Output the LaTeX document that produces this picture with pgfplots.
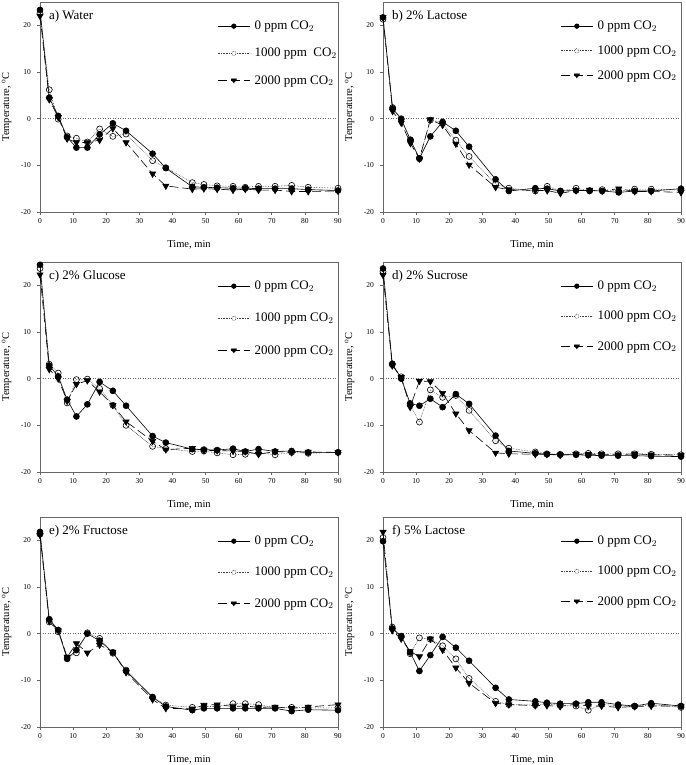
\documentclass[border=0pt]{standalone}
\usepackage{fontspec}
\setmainfont{Liberation Serif}
\usepackage{pgfplots}
\usepackage{pgfplotstable}
\pgfplotsset{compat=1.18}

\pgfplotstableread{
t a0 a1 a2
0 23.3 22.6 22.0
2.8 4.5 6.2 4.1
5.5 0.6 -0.1 0.3
8.2 -4.0 -3.7 -4.3
11 -6.2 -4.2 -5.1
14.3 -6.2 -5.0 -5.1
18 -3.4 -2.2 -4.6
22 -1.0 -3.8 -2.1
26 -2.6 -3.3 -5.1
34 -7.5 -9.0 -11.8
38 -10.6 -10.5 -14.4
46 -14.6 -13.7 -15.1
49.5 -14.7 -14.1 -15.0
53.5 -14.8 -14.4 -15.1
58.3 -14.9 -14.5 -15.3
62 -14.9 -14.7 -15.1
66 -15.0 -14.5 -15.3
71 -15.0 -14.5 -15.3
76 -15.0 -14.3 -15.6
81 -15.2 -14.7 -15.6
90 -15.4 -14.9 -15.5
}\tabA

\pgfplotstableread{
t a0 a1 a2
0 21.7 21.3 21.7
2.9 2.2 2.4 1.6
5.5 -0.1 0.0 -0.9
8.3 -4.6 -4.5 -5.3
11 -8.5 -8.6 -8.6
14.3 -3.8 -0.3 -0.2
18 -0.7 -0.9 -1.4
22 -2.6 -4.6 -5.4
26 -6.0 -8.1 -9.9
34 -13.0 -14.0 -14.7
38 -15.5 -14.9 -15.2
46 -14.9 -15.5 -15.4
49.6 -15.0 -14.5 -15.4
53.6 -15.5 -15.5 -16.0
58.3 -15.4 -14.9 -15.4
62.4 -15.4 -15.5 -15.3
66.2 -15.5 -15.2 -15.5
71.2 -15.8 -15.5 -15.0
76 -15.5 -15.1 -15.6
81 -15.5 -15.1 -15.6
90 -15.0 -15.3 -15.8
}\tabB

\pgfplotstableread{
t a0 a1 a2
0 24.4 23.6 22.3
2.8 2.8 3.1 2.0
5.5 0.5 1.2 0.0
8.2 -4.5 -5.2 -4.8
11 -8.1 -0.2 -1.2
14.3 -5.5 -0.1 -0.4
18 -0.7 -2.1 -2.8
22 -2.6 -5.7 -5.7
26 -5.8 -10.0 -9.2
34 -12.3 -14.5 -13.4
38 -13.7 -15.0 -15.2
46 -15.1 -15.6 -14.9
49.5 -15.2 -15.5 -15.4
53.5 -15.3 -15.9 -15.4
58.3 -15.0 -16.3 -15.5
62 -15.6 -16.2 -15.6
66 -15.1 -15.9 -16.2
71 -15.6 -16.3 -15.6
76 -15.5 -15.8 -15.8
81 -15.8 -16.0 -15.7
90 -15.8 -15.8 -15.8
}\tabC

\pgfplotstableread{
t a0 a1 a2
0 23.6 23.0 22.2
2.8 3.2 3.0 2.8
5.5 0.0 0.4 0.3
8.2 -5.3 -5.6 -6.1
11 -5.8 -9.3 -0.5
14.3 -4.3 -2.4 -0.6
18 -6.1 -4.0 -3.1
22 -3.3 -3.6 -7.5
26 -5.4 -6.8 -11.1
34 -12.2 -13.3 -15.9
38 -15.5 -14.9 -16.1
46 -16.0 -15.7 -16.2
49.5 -16.2 -16.1 -16.2
53.5 -16.3 -16.2 -16.4
58.3 -16.3 -16.1 -16.2
62 -16.4 -16.0 -16.2
66 -16.5 -16.1 -16.2
71 -16.5 -16.1 -16.3
76 -16.5 -16.1 -16.1
81 -16.6 -16.2 -16.3
90 -16.7 -16.3 -16.4
}\tabD

\pgfplotstableread{
t a0 a1 a2
0 21.8 21.3 21.1
2.8 3.1 2.5 2.7
5.5 0.8 0.4 0.7
8.2 -5.4 -5.2 -5.0
11 -3.5 -4.1 -2.1
14.3 0.0 0.2 -4.1
18 -1.5 -1.0 -2.4
22 -4.0 -4.2 -3.9
26 -8.0 -7.8 -8.3
34 -13.6 -13.6 -14.1
38 -15.6 -15.3 -16.0
46 -16.4 -15.8 -16.1
49.5 -16.0 -15.6 -15.3
53.5 -16.0 -15.6 -15.2
58.3 -16.0 -15.0 -15.6
62 -16.0 -15.0 -15.5
66 -16.0 -15.2 -15.8
71 -16.0 -15.9 -15.7
76 -16.6 -15.8 -16.0
81 -16.3 -15.9 -15.7
90 -16.4 -15.9 -15.2
}\tabE

\pgfplotstableread{
t a0 a1 a2
0 19.8 20.6 21.8
2.8 1.1 1.4 0.7
5.5 -0.6 -0.5 -1.1
8.2 -4.0 -4.3 -3.8
11 -8.0 -0.9 -4.9
14.3 -4.6 -1.2 -1.1
18 -0.7 -2.6 -3.5
22 -3.0 -5.4 -7.3
26 -5.8 -9.6 -10.6
34 -11.6 -14.5 -14.9
38 -14.1 -15.2 -15.2
46 -14.5 -15.3 -15.4
49.5 -14.8 -15.0 -15.4
53.5 -15.0 -15.4 -15.6
58.3 -15.0 -15.5 -15.1
62 -14.7 -16.4 -15.5
66 -14.7 -15.2 -15.5
71 -15.2 -15.4 -15.8
76 -15.5 -15.6 -15.6
81 -14.9 -15.2 -15.5
90 -15.5 -15.8 -15.5
}\tabF

\pgfplotsset{
  panel/.style={
    scale only axis, width=298pt, height=210pt,
    xmin=0, xmax=90, ymin=-20, ymax=25,
    xtick={0,10,...,90}, ytick={-20,-10,0,10,20},
    tick align=outside, major tick length=3pt,
    xtick pos=bottom, ytick pos=left,
    axis line style={black!60, line width=0.8pt},
    tick style={black!60, line width=0.6pt},
    /pgf/number format/assume math mode=true,
    ticklabel style={font=\fontsize{7.5}{8}\selectfont},
    yticklabel style={xshift=-2.5pt},
    xlabel={Time, min},
    ylabel={Temperature, \textsuperscript{o}C},
    label style={font=\fontsize{10.5}{12}\selectfont},
    xlabel style={at={(axis description cs:0.5,0)}, anchor=center, yshift=-33pt},
    ylabel style={at={(axis description cs:-0.112,0.5)}, anchor=center},
    legend cell align=left,
    legend style={draw=none, fill=none, inner sep=0pt,
      at={(0.595,0.922)}, anchor=north west,
      font=\fontsize{13}{15}\selectfont,
      nodes={inner sep=2.5pt},
      /tikz/every odd column/.append style={column sep=2pt}},
  },
  s0/.style={black, line width=0.6pt, mark=*, mark size=3pt, mark options={solid, fill=black}},
  s1/.style={black!75, densely dotted, line width=0.6pt, mark=o, mark size=3pt, mark options={solid, black, fill=white}},
  s2/.style={black, dash pattern=on 9pt off 4pt, line width=0.6pt, mark=triangle*, mark size=3.6pt, mark options={solid, rotate=180, fill=black}},
  l0/.style={legend image code/.code={\draw[black, line width=0.6pt] (0pt,0pt) -- (32pt,0pt); \fill[black] (16pt,0pt) circle (2.3pt);}},
  l1/.style={legend image code/.code={\draw[black!75, densely dotted, line width=0.6pt] (0pt,0pt) -- (32pt,0pt); \draw[black, fill=white, line width=0.5pt] (16pt,0pt) circle (2.1pt);}},
  l2/.style={legend image code/.code={\draw[black, dash pattern=on 9pt off 4pt, line width=0.6pt] (0pt,0pt) -- (32pt,0pt); \fill[black] (13.3pt,1.6pt) -- (18.7pt,1.6pt) -- (16pt,-3pt) -- cycle;}},
  zeroline/.style={black!60, dotted, line width=0.5pt, forget plot},
}

\newcommand{\ttl}[1]{\node[anchor=west, inner sep=0pt, font=\fontsize{13}{15}\selectfont] at (rel axis cs:0.03,0.932) {#1};}

\begin{document}
\begin{tikzpicture}
\path[use as bounding box] (0pt,0pt) rectangle (685pt,-765pt);

% a
\begin{axis}[panel, at={(40pt,-2pt)}, anchor=north west, legend style={row sep=12pt}]
\addplot[zeroline] coordinates {(0,0) (90,0)};
\addplot[s0, l0] table[x=t,y=a0] {\tabA};
\addplot[s1, l1] table[x=t,y=a1] {\tabA};
\addplot[s2, l2] table[x=t,y=a2] {\tabA};
\legend{0 ppm CO$_2$, 1000 ppm \ CO$_2$, 2000 ppm CO$_2$}
\ttl{a) Water}
\end{axis}

% b
\begin{axis}[panel, at={(383pt,-2pt)}, anchor=north west, legend style={row sep=9.5pt}]
\addplot[zeroline] coordinates {(0,0) (90,0)};
\addplot[s0, l0] table[x=t,y=a0] {\tabB};
\addplot[s1, l1] table[x=t,y=a1] {\tabB};
\addplot[s2, l2] table[x=t,y=a2] {\tabB};
\legend{0 ppm CO$_2$, 1000 ppm CO$_2$, 2000 ppm CO$_2$}
\ttl{b) 2\% Lactose}
\end{axis}

% c
\begin{axis}[panel, at={(40pt,-262pt)}, anchor=north west, legend style={row sep=17pt}]
\addplot[zeroline] coordinates {(0,0) (90,0)};
\addplot[s0, l0] table[x=t,y=a0] {\tabC};
\addplot[s1, l1] table[x=t,y=a1] {\tabC};
\addplot[s2, l2] table[x=t,y=a2] {\tabC};
\legend{0 ppm CO$_2$, 1000 ppm CO$_2$, 2000 ppm CO$_2$}
\ttl{c) 2\% Glucose}
\end{axis}

% d
\begin{axis}[panel, at={(383pt,-262pt)}, anchor=north west, legend style={row sep=15pt}]
\addplot[zeroline] coordinates {(0,0) (90,0)};
\addplot[s0, l0] table[x=t,y=a0] {\tabD};
\addplot[s1, l1] table[x=t,y=a1] {\tabD};
\addplot[s2, l2] table[x=t,y=a2] {\tabD};
\legend{0 ppm CO$_2$, 1000 ppm CO$_2$, 2000 ppm CO$_2$}
\ttl{d) 2\% Sucrose}
\end{axis}

% e
\begin{axis}[panel, at={(40pt,-517pt)}, anchor=north west, legend style={row sep=16pt}]
\addplot[zeroline] coordinates {(0,0) (90,0)};
\addplot[s0, l0] table[x=t,y=a0] {\tabE};
\addplot[s1, l1] table[x=t,y=a1] {\tabE};
\addplot[s2, l2] table[x=t,y=a2] {\tabE};
\legend{0 ppm CO$_2$, 1000 ppm CO$_2$, 2000 ppm CO$_2$}
\ttl{e) 2\% Fructose}
\end{axis}

% f
\begin{axis}[panel, at={(383pt,-517pt)}, anchor=north west, legend style={row sep=15pt}]
\addplot[zeroline] coordinates {(0,0) (90,0)};
\addplot[s0, l0] table[x=t,y=a0] {\tabF};
\addplot[s1, l1] table[x=t,y=a1] {\tabF};
\addplot[s2, l2] table[x=t,y=a2] {\tabF};
\legend{0 ppm CO$_2$, 1000 ppm CO$_2$, 2000 ppm CO$_2$}
\ttl{f) 5\% Lactose}
\end{axis}
\end{tikzpicture}
\end{document}
